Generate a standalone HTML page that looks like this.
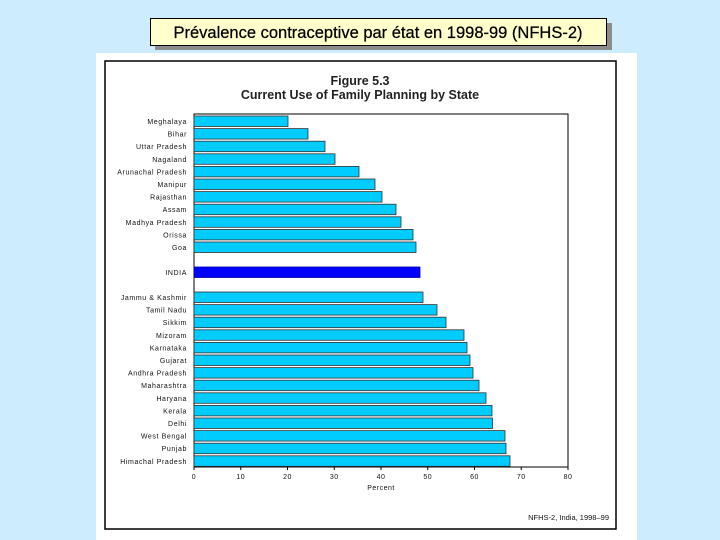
<!DOCTYPE html>
<html><head><meta charset="utf-8"><style>
html,body{margin:0;padding:0;background:#cdecfe;}
svg{display:block;font-family:"Liberation Sans",sans-serif;}
</style></head><body>
<svg width="720" height="540" viewBox="0 0 720 540">
<rect width="720" height="540" fill="#cdecfe"/>
<rect x="96" y="53" width="541" height="487" fill="#fff"/>
<rect x="155" y="23" width="457" height="27" fill="#8c8c8c"/>
<rect x="150.5" y="18.5" width="456" height="27" fill="#ffffcc" stroke="#000" stroke-width="1"/>
<text x="378" y="38" text-anchor="middle" font-size="16.5" fill="#000" stroke="#000" stroke-width="0.25">Prévalence contraceptive par état en 1998-99 (NFHS-2)</text>
<rect x="105" y="61" width="511" height="468" fill="none" stroke="#000" stroke-width="1.5"/>
<text x="360" y="85" text-anchor="middle" font-size="12.5" font-weight="bold" fill="#222">Figure 5.3</text>
<text x="360" y="99" text-anchor="middle" font-size="12.5" font-weight="bold" fill="#222">Current Use of Family Planning by State</text>
<rect x="194" y="114" width="374" height="353" fill="none" stroke="#000" stroke-width="1"/>
<g font-size="7" fill="#111" text-anchor="end" letter-spacing="0.6">
<g id="bars" stroke="#333" stroke-width="0.8" fill="#00ccff">
<rect x="194" y="116" width="94" height="10.5"/>
<rect x="194" y="128.6" width="114" height="10.5"/>
<rect x="194" y="141.2" width="131" height="10.5"/>
<rect x="194" y="153.8" width="141" height="10.5"/>
<rect x="194" y="166.4" width="165" height="10.5"/>
<rect x="194" y="179" width="181" height="10.5"/>
<rect x="194" y="191.6" width="188" height="10.5"/>
<rect x="194" y="204.2" width="202" height="10.5"/>
<rect x="194" y="216.8" width="207" height="10.5"/>
<rect x="194" y="229.4" width="219" height="10.5"/>
<rect x="194" y="242" width="222" height="10.5"/>
<rect x="194" y="267" width="226" height="10.5" fill="#0000ff" stroke="#0000aa"/>
<rect x="194" y="292" width="229" height="10.5"/>
<rect x="194" y="304.6" width="243" height="10.5"/>
<rect x="194" y="317.2" width="252" height="10.5"/>
<rect x="194" y="329.8" width="270" height="10.5"/>
<rect x="194" y="342.4" width="273" height="10.5"/>
<rect x="194" y="355" width="276" height="10.5"/>
<rect x="194" y="367.6" width="279" height="10.5"/>
<rect x="194" y="380.2" width="285" height="10.5"/>
<rect x="194" y="392.8" width="292" height="10.5"/>
<rect x="194" y="405.4" width="298" height="10.5"/>
<rect x="194" y="418" width="298.5" height="10.5"/>
<rect x="194" y="430.6" width="311" height="10.5"/>
<rect x="194" y="443.2" width="312" height="10.5"/>
<rect x="194" y="455.8" width="316" height="10.5"/>
</g>
<text x="187" y="124">Meghalaya</text>
<text x="187" y="136.6">Bihar</text>
<text x="187" y="149.2">Uttar Pradesh</text>
<text x="187" y="161.8">Nagaland</text>
<text x="187" y="174.4">Arunachal Pradesh</text>
<text x="187" y="187">Manipur</text>
<text x="187" y="199.6">Rajasthan</text>
<text x="187" y="212.2">Assam</text>
<text x="187" y="224.8">Madhya Pradesh</text>
<text x="187" y="237.4">Orissa</text>
<text x="187" y="250">Goa</text>
<text x="187" y="275">INDIA</text>
<text x="187" y="300">Jammu &amp; Kashmir</text>
<text x="187" y="312.6">Tamil Nadu</text>
<text x="187" y="325.2">Sikkim</text>
<text x="187" y="337.8">Mizoram</text>
<text x="187" y="350.4">Karnataka</text>
<text x="187" y="363">Gujarat</text>
<text x="187" y="375.6">Andhra Pradesh</text>
<text x="187" y="388.2">Maharashtra</text>
<text x="187" y="400.8">Haryana</text>
<text x="187" y="413.4">Kerala</text>
<text x="187" y="426">Delhi</text>
<text x="187" y="438.6">West Bengal</text>
<text x="187" y="451.2">Punjab</text>
<text x="187" y="463.8">Himachal Pradesh</text>
</g>
<g stroke="#000" stroke-width="1">
<line x1="194" y1="467" x2="194" y2="470"/><line x1="240.75" y1="467" x2="240.75" y2="470"/>
<line x1="287.5" y1="467" x2="287.5" y2="470"/><line x1="334.25" y1="467" x2="334.25" y2="470"/>
<line x1="381" y1="467" x2="381" y2="470"/><line x1="427.75" y1="467" x2="427.75" y2="470"/>
<line x1="474.5" y1="467" x2="474.5" y2="470"/><line x1="521.25" y1="467" x2="521.25" y2="470"/>
<line x1="568" y1="467" x2="568" y2="470"/>
</g>
<g font-size="7" fill="#111" text-anchor="middle" letter-spacing="0.5">
<text x="194" y="479">0</text><text x="240.75" y="479">10</text><text x="287.5" y="479">20</text>
<text x="334.25" y="479">30</text><text x="381" y="479">40</text><text x="427.75" y="479">50</text>
<text x="474.5" y="479">60</text><text x="521.25" y="479">70</text><text x="568" y="479">80</text>
<text x="381" y="490">Percent</text>
</g>
<text x="609" y="520" text-anchor="end" font-size="7.5" fill="#111">NFHS-2, India, 1998–99</text>
</svg>
</body></html>
